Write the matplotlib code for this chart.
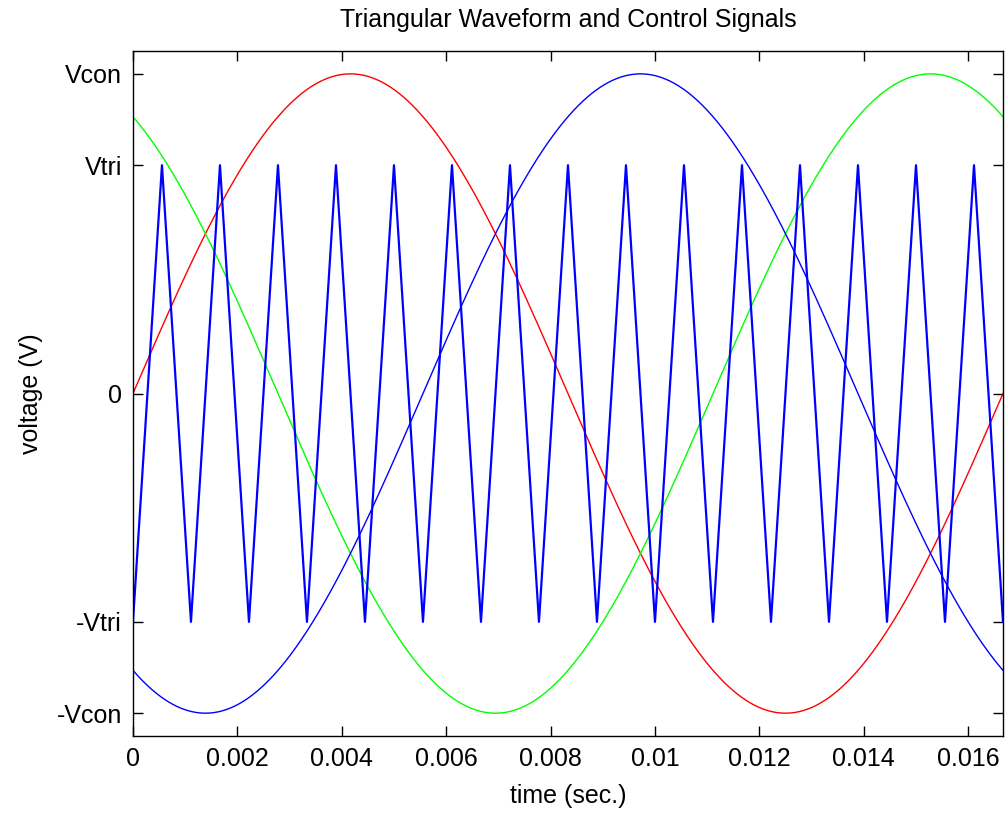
import numpy as np
import matplotlib
matplotlib.use("Agg")
import matplotlib.pyplot as plt

# Signal parameters
f_line = 60.0          # control signal frequency (Hz)
m_f = 15               # frequency ratio (carrier / control)
V_tri = 1.0            # carrier peak
V_con = 1.4            # control peak
phase_shifts_deg = [0.0, 120.0, -120.0]
phase_colors = ["#ff0000", "#00ff00", "#0000ff"]

y_tick_values = [-V_con, -V_tri, 0.0, V_tri, V_con]
y_tick_labels = ["-Vcon", "-Vtri", "0", "Vtri", "Vcon"]
x_tick_values = [0, 0.002, 0.004, 0.006, 0.008, 0.01, 0.012, 0.014, 0.016]
x_tick_labels = ["0", "0.002", "0.004", "0.006", "0.008", "0.01", "0.012", "0.014", "0.016"]

t_end = 1.0 / f_line
t = np.linspace(0.0, t_end, 3001)

# triangular carrier: starts at -V_tri, peaks at half period
f_tri = m_f * f_line
phase = (t * f_tri) % 1.0
tri = V_tri * (1.0 - 4.0 * np.abs(phase - 0.5))

plt.rcParams["font.family"] = ["Liberation Sans", "DejaVu Sans"]

fig = plt.figure(figsize=(10.05, 8.14), dpi=100)
ax = fig.add_axes([0.1323, 0.0958, 0.8657, 0.8415])

for shift, col in zip(phase_shifts_deg, phase_colors):
    ax.plot(t, V_con * np.sin(2 * np.pi * f_line * t + np.deg2rad(shift)),
            color=col, lw=1.0)
ax.plot(t, tri, color="#0000ff", lw=1.6)

ax.set_xlim(0, t_end)
ax.set_ylim(-1.5, 1.5)
ax.set_xticks(x_tick_values)
ax.set_xticklabels(x_tick_labels)
ax.set_yticks(y_tick_values)
ax.set_yticklabels(y_tick_labels)
ax.tick_params(direction="in", length=7, width=1, top=True, right=True,
               labelsize=18, pad=8)
for sp in ax.spines.values():
    sp.set_linewidth(1.0)

ax.set_title("Triangular Waveform and Control Signals", fontsize=18, pad=17)
ax.set_xlabel("time (sec.)", fontsize=18, labelpad=9)
ax.set_ylabel("voltage (V)", fontsize=18, labelpad=10)

fig.savefig("out.png", dpi=100)
